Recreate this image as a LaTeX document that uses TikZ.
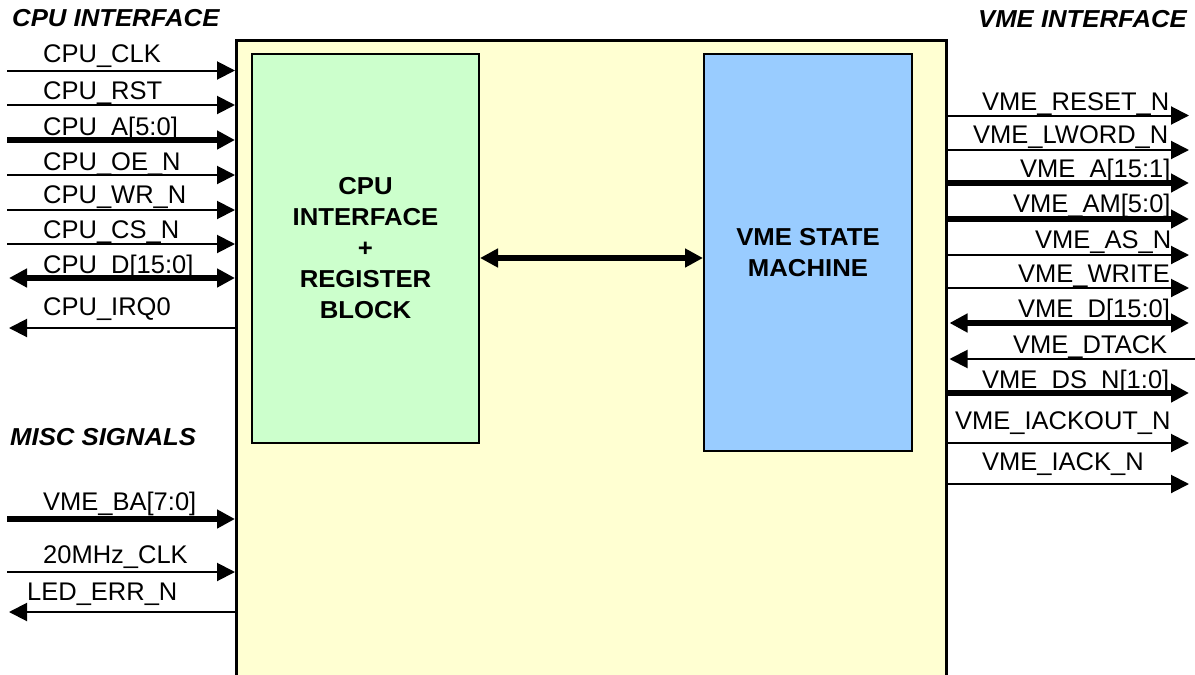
\documentclass[tikz,border=0pt]{standalone}
\usepackage{fontspec}
\setmainfont{Liberation Sans}
\newfontfamily\headfont[FakeStretch=1.05]{Liberation Sans}
\usetikzlibrary{arrows.meta}

\definecolor{coreyellow}{HTML}{FFFFD2}
\definecolor{regreen}{HTML}{CCFFCC}
\definecolor{smblue}{HTML}{99CCFF}

\begin{document}
\begin{tikzpicture}[x=1pt,y=-1pt,
  wire/.style={line width=2pt},
  bus/.style={line width=6.5pt},
  tipr/.style={-{Triangle[length=18pt,width=18pt]}},
  tipb/.style={{Triangle[length=18pt,width=18pt]}-{Triangle[length=18pt,width=18pt]}},
  lbl/.style={anchor=base west, inner sep=0pt, font=\fontsize{25.5}{30}\selectfont},
  title/.style={inner sep=0pt, font=\headfont\bfseries\itshape\fontsize{24.5}{30}\selectfont},
  block/.style={draw, line width=2pt, inner sep=0pt, anchor=north west, align=center,
                font=\headfont\bfseries\fontsize{24.5}{31}\selectfont}
]
\useasboundingbox (0,0) rectangle (1195,675);
\clip (0,0) rectangle (1195,675);

% main device outline (runs past the bottom edge)
\node[draw, line width=2.5pt, fill=coreyellow, inner sep=0pt, anchor=north west,
      minimum width=710pt, minimum height=680pt] (core) at (235,39) {};

% internal blocks
\node[block, fill=regreen, minimum width=227pt, minimum height=389pt] (regblk) at (251,53)
  {CPU\\INTERFACE\\+\\REGISTER\\BLOCK};
\node[block, fill=smblue, minimum width=208pt, minimum height=397pt] (vmesm) at (703,53)
  {VME STATE\\MACHINE};
\coordinate (link) at (590,258);
\draw[bus, line width=6pt, tipb] (regblk.east |- link) -- (vmesm.west |- link);

% group titles
\node[title, anchor=base west] (tcpu) at (12,26) {CPU INTERFACE};
\node[title, anchor=base east] (tvme) at (1187,27) {VME INTERFACE};
\node[title, anchor=base west] (tmisc) at (10,445) {MISC SIGNALS};

% ---- CPU interface signals ----
\coordinate (pclk) at (7,70.5);
\coordinate (prst) at (7,105);
\coordinate (pa)   at (7,140);
\coordinate (poe)  at (7,175);
\coordinate (pwr)  at (7,210);
\coordinate (pcs)  at (7,244);
\coordinate (pd)   at (9,278);
\coordinate (pirq) at (9,328);
\draw[wire, tipr] (pclk) -- (core.west |- pclk);
\draw[wire, tipr] (prst) -- (core.west |- prst);
\draw[bus,  tipr] (pa)   -- (core.west |- pa);
\draw[wire, tipr] (poe)  -- (core.west |- poe);
\draw[wire, tipr] (pwr)  -- (core.west |- pwr);
\draw[wire, tipr] (pcs)  -- (core.west |- pcs);
\draw[bus,  tipb] (pd)   -- (core.west |- pd);
\draw[wire, tipr] (core.west |- pirq) -- (pirq);
\node[lbl] (lclk) at (43,62)  {CPU\_CLK};
\node[lbl] (lrst) at (43,99)  {CPU\_RST};
\node[lbl] (la)   at (43,135) {CPU\_A[5:0]};
\node[lbl] (loe)  at (43,170) {CPU\_OE\_N};
\node[lbl] (lwr)  at (43,203) {CPU\_WR\_N};
\node[lbl] (lcs)  at (43,238) {CPU\_CS\_N};
\node[lbl] (ld)   at (43,273) {CPU\_D[15:0]};
\node[lbl] (lirq) at (43,315) {CPU\_IRQ0};

% ---- misc signals ----
\coordinate (pba)  at (7,519);
\coordinate (p20)  at (7,572);
\coordinate (pled) at (9,612);
\draw[bus,  tipr] (pba) -- (core.west |- pba);
\draw[wire, tipr] (p20) -- (core.west |- p20);
\draw[wire, tipr] (core.west |- pled) -- (pled);
\node[lbl] (lba)  at (43,510) {VME\_BA[7:0]};
\node[lbl] (l20)  at (43,563) {20MHz\_CLK};
\node[lbl] (lled) at (27,600) {LED\_ERR\_N};

% ---- VME interface signals ----
\coordinate (vreset)  at (1189,115.5);
\coordinate (vlword)  at (1189,150);
\coordinate (va)      at (1189,183);
\coordinate (vam)     at (1189,219);
\coordinate (vas)     at (1189,255);
\coordinate (vwrite)  at (1189,288);
\coordinate (vd)      at (1189,323);
\coordinate (vdtack)  at (1197,359);
\coordinate (vds)     at (1189,393);
\coordinate (viackout) at (1189,443);
\coordinate (viack)   at (1189,484);
\draw[wire, tipr] (core.east |- vreset) -- (vreset);
\draw[wire, tipr] (core.east |- vlword) -- (vlword);
\draw[bus,  tipr] (core.east |- va) -- (va);
\draw[bus,  tipr] (core.east |- vam) -- (vam);
\draw[wire, tipr] (core.east |- vas) -- (vas);
\draw[wire, tipr] (core.east |- vwrite) -- (vwrite);
\draw[bus,  tipb] ([xshift=2pt]core.east |- vd) -- (vd);
\draw[wire, tipr] (vdtack) -- ([xshift=2pt]core.east |- vdtack);
\draw[bus,  tipr] (core.east |- vds) -- (vds);
\draw[wire, tipr] (core.east |- viackout) -- (viackout);
\draw[wire, tipr] (core.east |- viack) -- (viack);
\node[lbl] (lreset)   at (982,110)  {VME\_RESET\_N};
\node[lbl] (llword)   at (973,143)  {VME\_LWORD\_N};
\node[lbl] (lva)      at (1020,177) {VME\_A[15:1]};
\node[lbl] (lam)      at (1013,212) {VME\_AM[5:0]};
\node[lbl] (las)      at (1035,248) {VME\_AS\_N};
\node[lbl] (lwrite)   at (1018,282) {VME\_WRITE};
\node[lbl] (lvd)      at (1018,317) {VME\_D[15:0]};
\node[lbl] (ldtack)   at (1013,353) {VME\_DTACK};
\node[lbl] (lds)      at (982,388)  {VME\_DS\_N[1:0]};
\node[lbl] (liackout) at (955,429)  {VME\_IACKOUT\_N};
\node[lbl] (liack)    at (982,470)  {VME\_IACK\_N};
\end{tikzpicture}
\end{document}
